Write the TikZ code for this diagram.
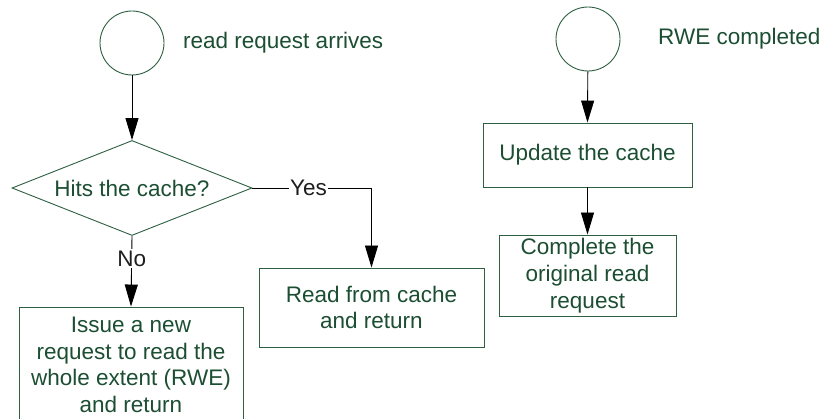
\documentclass[tikz,border=0pt]{standalone}
\usepackage{fontspec}
\setmainfont{Liberation Sans}
\usetikzlibrary{shapes.geometric,arrows.meta}
\definecolor{txtgreen}{RGB}{28,78,50}
\definecolor{edgegreen}{RGB}{45,95,65}
\definecolor{lbl}{RGB}{30,30,30}
\tikzset{
  base/.style={draw=edgegreen,line width=0.9pt,text=txtgreen,font=\fontsize{22.5}{26.7}\selectfont,inner sep=0pt,align=center},
  startcirc/.style={base,circle,minimum size=64pt},
  procbox/.style={base,rectangle},
  decide/.style={base,diamond,aspect=2.5,minimum width=240pt,minimum height=95pt},
  plain/.style={text=txtgreen,font=\fontsize{22.5}{26.7}\selectfont,inner sep=0pt},
  conn/.style={draw=black,line width=0.9pt,-{Triangle[length=22pt,width=13pt]}},
  edgelbl/.style={fill=white,text=lbl,font=\fontsize{22.5}{26.7}\selectfont,inner sep=1.5pt}
}
\begin{document}
\begin{tikzpicture}[x=1pt,y=-1pt]
\useasboundingbox (0,0) rectangle (822,419);
\clip (0,0) rectangle (822,419);
% left flow
\node[startcirc] (c1) at (132,43) {};
\node[plain,anchor=west] (t1) at (183,43) {read request arrives};
\node[decide] (d) at (132,188) {Hits the cache?};
\node[procbox,minimum width=225pt,minimum height=79pt] (r) at (371.5,307.5) {Read from cache\\and return};
\node[procbox,minimum width=224pt,minimum height=116pt] (i) at (131,365) {Issue a new\\request to read the\\whole extent (RWE)\\and return};
% right flow
\node[startcirc] (c2) at (588,39) {};
\node[plain,anchor=west] (t2) at (658,39) {RWE completed};
\node[procbox,minimum width=209pt,minimum height=64pt] (u) at (587.5,155) {Update the cache};
\node[procbox,minimum width=177pt,minimum height=81pt] (cb) at (587.5,275.5) {Complete the\\original read\\request};
% connectors
\draw[conn] (c1) -- (d.north);
\draw[conn] (d.east) -- node[edgelbl,pos=0.47] {Yes} (d.east -| r.north) -- (r.north);
\draw[conn] (d.south) -- node[edgelbl,pos=0.32] {No} (i.north);
\draw[conn] (c2) -- (u.north);
\draw[conn] (u.south) -- (cb.north);
\end{tikzpicture}
\end{document}
